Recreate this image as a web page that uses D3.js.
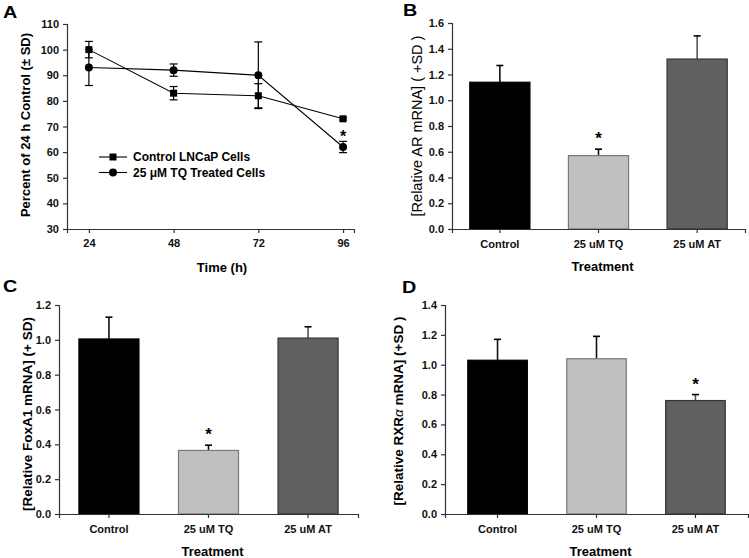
<!DOCTYPE html>
<html><head><meta charset="utf-8">
<script src="https://cdn.jsdelivr.net/npm/d3@7"></script>
<style>
body{margin:0;background:#fff;}
svg text{font-family:"Liberation Sans",Arial,sans-serif;}
</style></head>
<body><svg id="c" width="749" height="558"></svg>
<script>
// ---- Panel A data ----
const timePoints = [24, 48, 72, 96];
const controlMean = [100, 83, 82, 73];
const controlSD   = [3.2, 2.6, 4.7, 0.5];
const tqMean      = [93, 92, 90, 62];
const tqSD        = [7, 2.4, 13, 2.2];
const seriesNames = ["Control LNCaP Cells", "25 \u03BCM TQ Treated Cells"];
const yTicksA = [30, 40, 50, 60, 70, 80, 90, 100, 110];

// ---- Bar panels data ----
const treatments = ["Control", "25 uM TQ", "25 uM AT"];
const arMean   = [1.14, 0.57, 1.32];
const arErr    = [0.13, 0.05, 0.18];
const foxMean  = [1.005, 0.365, 1.01];
const foxErr   = [0.125, 0.03, 0.065];
const rxrMean  = [1.03, 1.04, 0.76];
const rxrErr   = [0.14, 0.15, 0.04];
const sigAR  = [false, true, false];
const sigFox = [false, true, false];
const sigRXR = [false, false, true];

const barFill   = ["#000000", "#c0c0c0", "#606060"];
const barStroke = ["#000000", "#7a7a7a", "#333333"];
const axisColor = "#333";

const svg = d3.select("#c");

function styleAxis(g){
  g.selectAll("path.domain").attr("stroke", axisColor).attr("stroke-width",1.2);
  g.selectAll(".tick line").attr("stroke", axisColor).attr("stroke-width",1.2);
  g.selectAll(".tick text").attr("font-family","Liberation Sans, Arial, sans-serif")
    .attr("font-size", 11).attr("font-weight","bold").attr("fill","#111");
}
function panelLetter(letter, px, py){
  svg.append("text").attr("transform",`translate(${px},${py}) scale(1.2,1)`)
    .attr("font-size",16.5).attr("font-weight","bold").text(letter);
}

// ================= Panel A =================
(function(){
  const x = d3.scaleLinear().domain([17.8, 99.1]).range([67, 354]);
  const y = d3.scaleLinear().domain([30, 110]).range([229, 24]);
  const gx = svg.append("g").attr("transform","translate(0,229)")
    .call(d3.axisBottom(x).tickValues(timePoints).tickSizeOuter(0).tickSize(4).tickPadding(6));
  styleAxis(gx);
  const gy = svg.append("g").attr("transform","translate(67,0)")
    .call(d3.axisLeft(y).tickValues(yTicksA).tickSizeOuter(0).tickSize(4).tickPadding(4));
  styleAxis(gy);

  const line = d3.line().x(d=>x(d.t)).y(d=>y(d.m));
  const ctrl = timePoints.map((t,i)=>({t, m:controlMean[i], s:controlSD[i]}));
  const tq   = timePoints.map((t,i)=>({t, m:tqMean[i], s:tqSD[i]}));

  function errBars(data){
    const g = svg.append("g").attr("stroke","#000").attr("stroke-width",1.2);
    data.forEach(d=>{
      g.append("line").attr("x1",x(d.t)).attr("x2",x(d.t)).attr("y1",y(d.m+d.s)).attr("y2",y(d.m-d.s));
      [d.m+d.s, d.m-d.s].forEach(v=>g.append("line").attr("x1",x(d.t)-4).attr("x2",x(d.t)+4).attr("y1",y(v)).attr("y2",y(v)));
    });
  }
  errBars(tq); errBars(ctrl);
  svg.append("path").datum(tq).attr("d",line).attr("fill","none").attr("stroke","#000").attr("stroke-width",1.1);
  svg.append("path").datum(ctrl).attr("d",line).attr("fill","none").attr("stroke","#000").attr("stroke-width",1.1);
  svg.selectAll(".sq").data(ctrl).enter().append("rect")
    .attr("x",d=>x(d.t)-3.5).attr("y",d=>y(d.m)-3.5).attr("width",7).attr("height",7).attr("fill","#000");
  svg.selectAll(".ci").data(tq).enter().append("circle")
    .attr("cx",d=>x(d.t)).attr("cy",d=>y(d.m)).attr("r",4).attr("fill","#000");
  // significance
  const last = tq[3];
  svg.append("text").attr("x",x(last.t)).attr("y",y(last.m+last.s)+1).attr("text-anchor","middle")
    .attr("font-size",16).attr("font-weight","bold").text("*");

  // legend
  const lg = svg.append("g");
  [0,1].forEach(i=>{
    const yy = 157 + i*15.5;
    lg.append("line").attr("x1",99).attr("x2",127).attr("y1",yy).attr("y2",yy).attr("stroke","#000").attr("stroke-width",1.1);
    if(i===0) lg.append("rect").attr("x",113-3.5).attr("y",yy-3.5).attr("width",7).attr("height",7);
    else lg.append("circle").attr("cx",113).attr("cy",yy).attr("r",4);
    lg.append("text").attr("x",133).attr("y",yy+4.3).attr("font-size",12).attr("font-weight","bold").text(seriesNames[i]);
  });

  svg.append("text").attr("x",222).attr("y",272).attr("text-anchor","middle")
    .attr("font-size",13).attr("font-weight","bold").text("Time (h)");
  svg.append("text").attr("transform","translate(30,125) rotate(-90)").attr("text-anchor","middle")
    .attr("font-size",13).attr("font-weight","bold").text("Percent of 24 h Control (\u00B1 SD)");
  panelLetter("A", 3, 18);
})();

// ================= Bar panels =================
function barPanel(opt){
  const x = d3.scaleBand().domain(treatments).range([opt.x0, opt.x1]).paddingInner(opt.pi).paddingOuter(opt.po);
  const y = d3.scaleLinear().domain([0, opt.ymax]).range([opt.yb, opt.yt]);
  const data = treatments.map((t,i)=>({t, m:opt.mean[i], e:opt.err[i], sig:opt.sig[i], i}));

  // error bars (behind bars)
  const eg = svg.append("g");
  data.forEach(d=>{
    const cx = x(d.t)+x.bandwidth()/2;
    eg.append("line").attr("x1",cx).attr("x2",cx).attr("y1",y(d.m)).attr("y2",y(d.m+d.e))
      .attr("stroke", d.i===2 ? "#555" : "#111").attr("stroke-width",1.6);
    eg.append("line").attr("x1",cx-3.5).attr("x2",cx+3.5).attr("y1",y(d.m+d.e)).attr("y2",y(d.m+d.e))
      .attr("stroke","#000").attr("stroke-width",1.6);
  });
  svg.append("g").selectAll("rect").data(data).enter().append("rect")
    .attr("x",d=>x(d.t)).attr("width",x.bandwidth())
    .attr("y",d=>y(d.m)).attr("height",d=>y(0)-y(d.m))
    .attr("fill",d=>barFill[d.i]).attr("stroke",d=>barStroke[d.i]).attr("stroke-width",1.2);

  data.filter(d=>d.sig).forEach(d=>{
    svg.append("text").attr("x",x(d.t)+x.bandwidth()/2).attr("y",y(d.m+d.e)-5)
      .attr("text-anchor","middle").attr("font-size",17).attr("font-weight","bold").text("*");
  });

  const gx = svg.append("g").attr("transform",`translate(0,${opt.yb})`)
    .call(d3.axisBottom(x).tickSizeOuter(0).tickSize(4).tickPadding(7));
  styleAxis(gx);
  const gy = svg.append("g").attr("transform",`translate(${opt.x0},0)`)
    .call(d3.axisLeft(y).tickValues(d3.range(0, opt.ymax+1e-9, 0.2)).tickFormat(d3.format(".1f"))
      .tickSizeOuter(0).tickSize(4).tickPadding(4));
  styleAxis(gy);

  svg.append("text").attr("x",(opt.x0+opt.x1)/2+4).attr("y",opt.yb+42).attr("text-anchor","middle")
    .attr("font-size",13).attr("font-weight","bold").text("Treatment");
  const yl = svg.append("text").attr("transform",`translate(${opt.lx},${opt.ly}) rotate(-90)`)
    .attr("text-anchor","middle").attr("font-size",opt.lsize).attr("font-weight",opt.lweight);
  opt.label(yl);
  panelLetter(opt.letter, opt.px, opt.py);
}

barPanel({x0:452, x1:745, pi:0.39, po:0.18, yb:229, yt:23, ymax:1.6,
  mean:arMean, err:arErr, sig:sigAR, lx:422, ly:126, lsize:14.5, lweight:"normal",
  label:t=>t.text("[Relative AR mRNA]  ( +SD )"), px:403, py:15.5, letter:"B"});
barPanel({x0:59, x1:358, pi:0.397, po:0.2, yb:514, yt:305, ymax:1.2,
  mean:foxMean, err:foxErr, sig:sigFox, lx:32, ly:414, lsize:13.5, lweight:"bold",
  label:t=>t.text("[Relative FoxA1 mRNA] (+ SD)"), px:3, py:292, letter:"C"});
barPanel({x0:445, x1:748, pi:0.398, po:0.23, yb:514, yt:305, ymax:1.4,
  mean:rxrMean, err:rxrErr, sig:sigRXR, lx:403, ly:411, lsize:13.5, lweight:"bold",
  label:t=>{ t.append("tspan").text("[Relative RXR");
             t.append("tspan").attr("font-style","italic").attr("font-weight","normal").text("\u03B1");
             t.append("tspan").text(" mRNA] (+SD )"); }, px:402, py:293, letter:"D"});
</script></body></html>
